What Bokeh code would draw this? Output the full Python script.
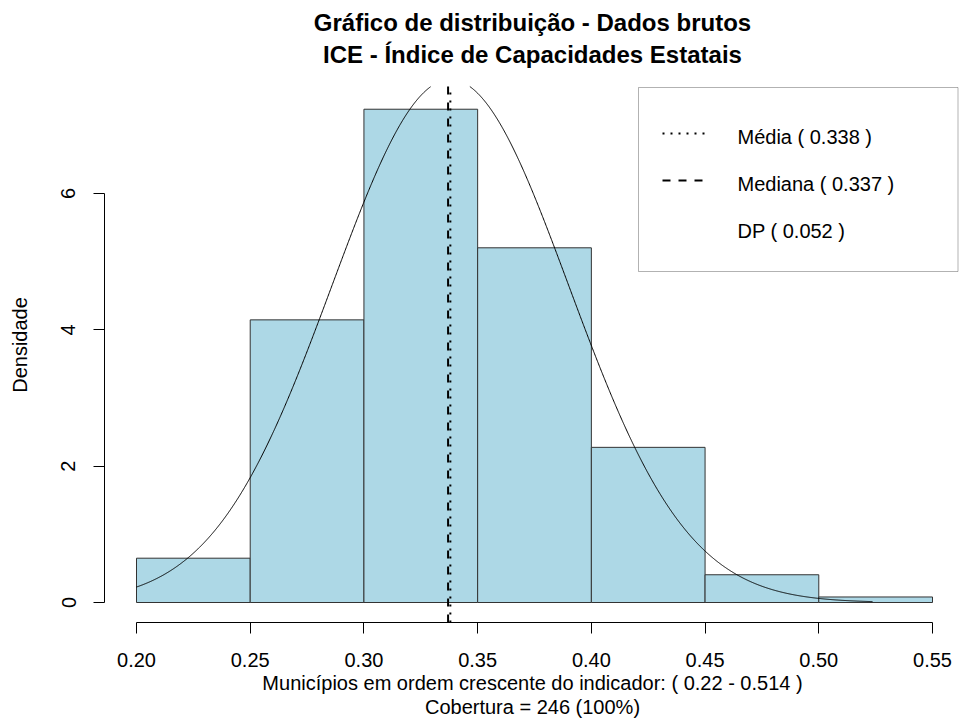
import numpy as np
from bokeh.plotting import figure
from bokeh.models import (Range1d, FixedTicker, CustomJSTickFormatter, Label,
                          BoxAnnotation, ColumnDataSource, Title)
from bokeh.embed import file_html
from bokeh.resources import INLINE

# ---------------- data ----------------
bin_edges = [0.20, 0.25, 0.30, 0.35, 0.40, 0.45, 0.50, 0.55]
densities = [0.650, 4.146, 7.236, 5.203, 2.276, 0.407, 0.081]
mean_val = 0.338
median_val = 0.337
sd_val = 0.052
curve_start = 0.20
curve_end = 0.5236
x_ticks = [0.20, 0.25, 0.30, 0.35, 0.40, 0.45, 0.50, 0.55]
y_ticks = [0, 2, 4, 6]
title_1 = "Gráfico de distribuição - Dados brutos"
title_2 = "ICE - Índice de Capacidades Estatais"
x_label_1 = "Municípios em ordem crescente do indicador: ( 0.22 - 0.514 )"
x_label_2 = "Cobertura = 246 (100%)"
y_label = "Densidade"
legend_labels = ["Média ( 0.338 )", "Mediana ( 0.337 )", "DP ( 0.052 )"]

# ---------------- layout helpers ----------------
X0, XPX0, XPPU = 0.20, 136.0, 2274.3   # x value at page px, px per unit
YPX0, YPPU = 602.0, 68.17               # page px of y=0, px per unit

def px2x(px):
    return X0 + (px - XPX0) / XPPU

def py2y(py):
    return (YPX0 - py) / YPPU

FONT = "Liberation Sans"
USR_Y_LO, USR_Y_HI = py2y(622), py2y(86)   # R plot-region limits (lines/curve clipped here)

p = figure(width=960, height=718, output_backend="svg", toolbar_location=None,
           x_range=Range1d(px2x(104), px2x(960)), y_range=Range1d(py2y(622), py2y(67)),
           min_border_left=104, min_border_right=0, min_border_top=67, min_border_bottom=96)
p.outline_line_color = None
p.xgrid.visible = False
p.ygrid.visible = False
p.background_fill_color = "white"
p.border_fill_color = "white"

# histogram
src = ColumnDataSource(dict(left=bin_edges[:-1], right=bin_edges[1:], top=densities,
                            bottom=[0] * len(densities)))
p.quad(left="left", right="right", top="top", bottom="bottom", source=src,
       fill_color="#ADD8E6", line_color="#333333", line_width=1)

# normal curve (clipped at the top of the plot region)
cx = np.linspace(curve_start, curve_end, 1500)
cy = np.exp(-0.5 * ((cx - mean_val) / sd_val) ** 2) / (sd_val * np.sqrt(2 * np.pi))
cy = np.where(cy > USR_Y_HI, np.nan, cy)
p.line(cx, cy, line_color="black", line_width=1)

# mean / median lines spanning the plot region
p.segment(x0=[median_val], y0=[USR_Y_LO], x1=[median_val], y1=[USR_Y_HI],
          line_color="black", line_width=2, line_dash="8 8")
p.segment(x0=[mean_val], y0=[USR_Y_LO], x1=[mean_val], y1=[USR_Y_HI],
          line_color="black", line_width=2, line_dash="2 6")

# axes
p.xaxis.ticker = FixedTicker(ticks=x_ticks)
p.xaxis.formatter = CustomJSTickFormatter(code="return tick.toFixed(2);")
p.xaxis.bounds = (x_ticks[0], x_ticks[-1])
p.yaxis.ticker = FixedTicker(ticks=y_ticks)
p.yaxis.bounds = (y_ticks[0], y_ticks[-1])
p.yaxis.major_label_orientation = "vertical"
for ax in (p.xaxis[0], p.yaxis[0]):
    ax.major_tick_out = 11
    ax.major_tick_in = 0
    ax.minor_tick_out = 0
    ax.minor_tick_in = 0
    ax.axis_line_color = "black"
    ax.major_tick_line_color = "black"
    ax.major_label_text_font = FONT
    ax.major_label_text_font_size = "20px"
    ax.major_label_text_color = "black"
p.xaxis.major_label_standoff = 19
p.yaxis.major_label_standoff = 18
p.yaxis.axis_label = y_label
p.yaxis.axis_label_text_font = FONT
p.yaxis.axis_label_text_font_size = "20px"
p.yaxis.axis_label_text_font_style = "normal"
p.yaxis.axis_label_text_color = "black"
p.yaxis.axis_label_standoff = 28

# titles (above: nearest first) and x labels (below: after axis)
p.add_layout(Title(text=title_2, align="center", offset=4, text_font=FONT, text_font_size="24px",
                   text_font_style="bold", text_color="black", standoff=0), "above")
p.add_layout(Title(text=title_1, align="center", offset=4, text_font=FONT, text_font_size="24px",
                   text_font_style="bold", text_color="black", standoff=6), "above")
p.add_layout(Title(text=x_label_1, align="center", offset=2, text_font=FONT, text_font_size="20px",
                   text_font_style="normal", text_color="black", standoff=0), "below")
p.add_layout(Title(text=x_label_2, align="center", offset=2, text_font=FONT, text_font_size="20px",
                   text_font_style="normal", text_color="black", standoff=1), "below")

# legend box
p.add_layout(BoxAnnotation(left=px2x(638), right=px2x(957.5), top=py2y(87), bottom=py2y(271),
                           fill_color=None, line_color="black", line_width=1))
row_y = [py2y(133), py2y(180), py2y(227)]
p.line([px2x(662), px2x(707)], [row_y[0], row_y[0]], line_color="black", line_width=2, line_dash="2 6")
p.line([px2x(662), px2x(707)], [row_y[1], row_y[1]], line_color="black", line_width=2, line_dash="8 8")
for lab, ry in zip(legend_labels, row_y):
    p.add_layout(Label(x=px2x(737), y=ry - 3.0 / YPPU, text=lab, text_font=FONT,
                       text_font_size="20px", text_align="left", text_baseline="alphabetic",
                       text_color="black"))

open("out.html", "w").write(file_html(p, INLINE))
